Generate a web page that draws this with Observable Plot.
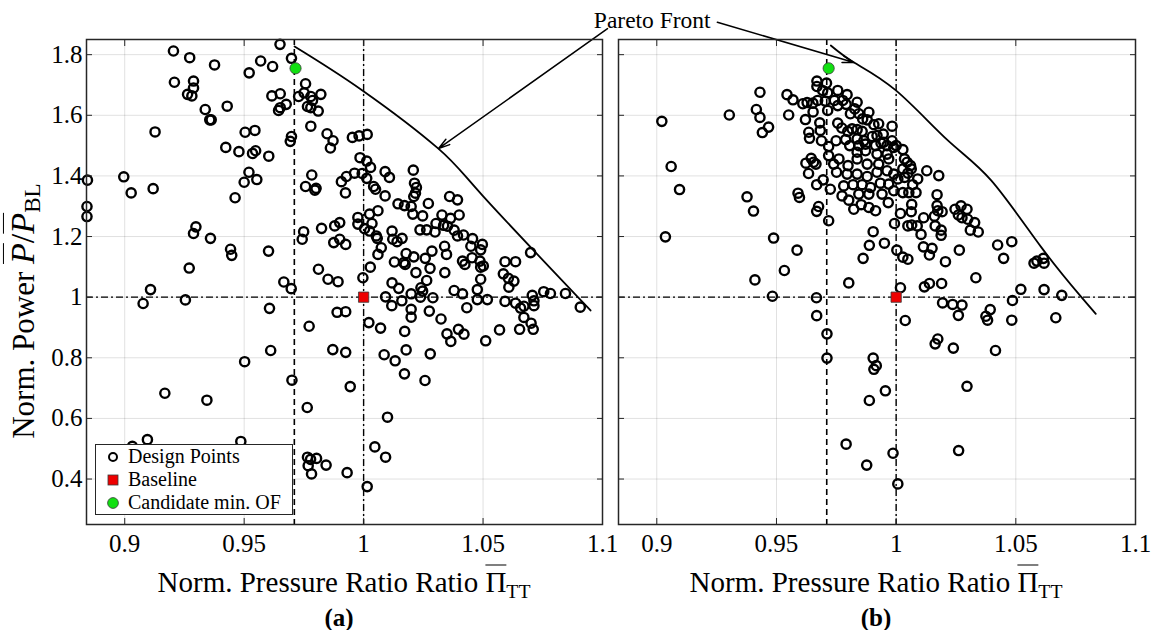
<!DOCTYPE html>
<html>
<head>
<meta charset="utf-8">
<script src="https://cdn.jsdelivr.net/npm/d3@7"></script>
<script src="https://cdn.jsdelivr.net/npm/@observablehq/plot@0.6"></script>
<style>
  html, body { margin: 0; padding: 0; background: #fff; }
  #fig { position: relative; width: 1153px; height: 630px; overflow: hidden; font-family: "Liberation Serif", "DejaVu Serif", serif; color: #000; }
  #fig svg { position: absolute; top: 0; }
  #fig svg text { font-family: "Liberation Serif", serif; }
  .lbl { position: absolute; white-space: nowrap; transform: translate(-50%, -50%); line-height: 1; }
  .xt { font-size: 29px; }
  .ov { text-decoration: overline; text-decoration-thickness: 1.4px; }
  .sb { font-size: 0.68em; position: relative; top: 0.28em; }
  .yt { font-size: 31px; transform: translate(-50%, -50%) rotate(-90deg); }
  .yt .m { font-size: 1.1em; }
  .tag { font-size: 25px; font-weight: bold; }
  #legend { position: absolute; left: 95px; top: 444px; width: 196px; height: 69px; border: 1.4px solid #262626; background: #fff; font-size: 20px; }
  #legend .row { position: absolute; left: 0; height: 23px; display: flex; align-items: center; }
  #legend svg { position: static; margin-left: 10px; margin-right: 8px; }
</style>
</head>
<body>
<div id="fig"></div>
<script>
// Axis ticks and their labels
const xTicks = [0.9, 0.95, 1, 1.05, 1.1];
const xTickLabels = ["0.9", "0.95", "1", "1.05", "1.1"];
const yTicks = [0.4, 0.6, 0.8, 1, 1.2, 1.4, 1.6, 1.8];
const yTickLabels = ["0.4", "0.6", "0.8", "1", "1.2", "1.4", "1.6", "1.8"];

// Reference values
const baseline = {x: 1, y: 1};
const constraintPR = 0.971; // lower bound on pressure ratio

// (a) design points [pressure ratio, power]
const designA = [
  [0.9204,1.812],[0.9272,1.790],[0.9208,1.709],[0.9376,1.766],[0.9288,1.713],[0.9288,1.690],[0.9263,1.669],[0.9281,1.664],
  [0.9337,1.619],[0.9356,1.585],[0.9362,1.585],[0.9429,1.630],[0.9127,1.545],[0.8996,1.397],[0.9027,1.344],[0.9119,1.358],
  [0.8844,1.386],[0.8842,1.299],[0.8842,1.266],[0.9423,1.494],[0.9478,1.480],[0.9504,1.544],[0.9545,1.550],[0.9548,1.483],
  [0.9535,1.474],[0.9520,1.412],[0.9553,1.388],[0.9500,1.379],[0.9462,1.328],[0.9603,1.465],[0.9521,1.740],[0.9569,1.779],
  [0.9619,1.761],[0.9650,1.834],[0.9698,1.788],[0.9616,1.664],[0.9651,1.671],[0.9676,1.636],[0.9644,1.616],[0.9651,1.625],
  [0.9698,1.530],[0.9693,1.514],[0.9728,1.662],[0.9298,1.232],[0.9288,1.210],[0.9359,1.194],[0.9443,1.158],[0.9448,1.138],
  [0.9270,1.096],[0.9602,1.152],[0.9666,1.050],[0.9697,1.028],[0.9108,1.025],[0.9077,0.979],[0.9254,0.991],[0.9606,0.963],
  [0.9611,0.824],[0.9502,0.787],[0.9168,0.683],[0.9344,0.660],[0.9700,0.726],[0.9095,0.530],[0.9486,0.524],[0.9032,0.508],
  [0.9757,1.704],[0.9751,1.674],[0.9779,1.662],[0.9786,1.649],[0.9821,1.669],[0.9765,1.629],[0.9779,1.625],[0.9810,1.614],
  [0.9779,1.564],[0.9847,1.539],[0.9872,1.516],[0.9861,1.492],[0.9953,1.527],[0.9981,1.532],[1.0015,1.537],[0.9985,1.460],
  [1.0013,1.449],[1.0029,1.428],[0.9962,1.409],[0.9994,1.408],[1.0013,1.392],[0.9928,1.398],[0.9907,1.381],[0.9924,1.344],
  [0.9783,1.403],[0.9757,1.365],[0.9796,1.353],[0.9801,1.359],[1.0042,1.365],[1.0050,1.356],[1.0090,1.414],[1.0108,1.395],
  [1.0090,1.334],[1.0208,1.419],[1.0213,1.376],[1.0221,1.362],[1.0217,1.343],[1.0210,1.332],[1.0199,1.299],[1.0206,1.274],
  [1.0144,1.308],[1.0171,1.302],[1.0271,1.309],[1.0247,1.268],[1.0360,1.332],[1.0393,1.321],[1.0328,1.271],[1.0364,1.260],
  [1.0400,1.271],[1.0303,1.243],[1.0299,1.215],[1.0264,1.222],[1.0236,1.222],[1.0335,1.237],[1.0351,1.234],[1.0379,1.221],
  [1.0393,1.202],[1.0418,1.205],[1.0456,1.193],[1.0497,1.174],[1.0449,1.168],[1.0490,1.156],[1.0454,1.130],[1.0487,1.119],
  [1.0490,1.099],[1.0501,1.103],[1.0414,1.119],[1.0424,1.108],[1.0339,1.168],[1.0347,1.141],[1.0286,1.152],[1.0258,1.128],
  [1.0278,1.095],[1.0340,1.081],[1.0219,1.081],[1.0264,1.055],[1.0240,1.031],[1.0210,1.133],[1.0178,1.144],[1.0168,1.114],
  [1.0129,1.116],[1.0174,1.108],[1.0119,1.218],[1.0122,1.191],[1.0140,1.183],[1.0161,1.194],[1.0060,1.285],[1.0025,1.274],
  [0.9976,1.263],[0.9976,1.241],[1.0004,1.226],[1.0025,1.218],[1.0035,1.243],[1.0053,1.202],[1.0057,1.194],[1.0074,1.163],
  [1.0060,1.141],[0.9900,1.246],[0.9879,1.235],[0.9824,1.227],[0.9875,1.180],[0.9900,1.191],[0.9925,1.174],[0.9749,1.216],
  [0.9743,1.191],[0.9811,1.092],[0.9851,1.059],[0.9893,1.051],[0.9997,1.064],[1.0028,1.099],[1.0092,1.001],[1.0119,1.047],
  [1.0147,1.029],[1.0199,1.011],[1.0238,1.000],[1.0247,1.020],[1.0290,0.998],[1.0379,1.022],[1.0414,1.011],[1.0476,1.025],
  [1.0476,0.992],[1.0518,0.992],[1.0490,1.059],[1.0592,1.117],[1.0636,1.117],[1.0585,1.077],[1.0606,1.062],[1.0629,1.053],
  [1.0608,1.033],[1.0699,1.147],[1.0754,1.018],[1.0782,1.012],[1.0845,1.012],[1.0907,0.967],
  [1.0118,0.972],[1.0160,0.988],[1.0199,0.960],[1.0199,0.934],[1.0275,0.954],[1.0324,0.928],[1.0432,0.965],[1.0592,0.986],
  [1.0636,0.980],[1.0657,0.964],[1.0671,0.970],[1.0706,1.006],[1.0713,0.988],[1.0713,0.972],[1.0671,0.933],[1.0701,0.914],
  [1.0710,0.894],[1.0653,0.894],[1.0569,0.892],[1.0511,0.856],[1.0349,0.879],[1.0365,0.854],[1.0397,0.894],[1.0420,0.878],
  [1.0279,0.813],[1.0257,0.725],[1.0178,0.826],[1.0171,0.747],[1.0172,0.887],[1.0132,0.790],[1.0086,0.810],[1.0071,0.898],
  [1.0022,0.916],[1.0100,0.604],[1.0047,0.506],[1.0092,0.472],[1.0015,0.375],[0.9889,0.950],[0.9925,0.952],[0.9871,0.827],
  [0.9925,0.818],[0.9944,0.705],[0.9772,0.904],[0.9764,0.636],[0.9765,0.472],[0.9778,0.465],[0.9803,0.468],[0.9768,0.444],
  [0.9782,0.417],[0.9843,0.446],[0.9931,0.421]
];

// (b) design points [pressure ratio, power]
const designB = [
  [0.9021,1.580],[0.9060,1.431],[0.9095,1.355],[0.9036,1.199],[0.9303,1.601],[0.9431,1.676],[0.9416,1.619],[0.9431,1.593],
  [0.9467,1.561],[0.9441,1.543],[0.9544,1.668],[0.9569,1.651],[0.9551,1.601],[0.9377,1.331],[0.9404,1.284],[0.9488,1.195],
  [0.9590,1.343],[0.9596,1.329],[0.9586,1.155],[0.9533,1.088],[0.9410,1.057],[0.9483,1.003],[0.9667,0.998],[0.9668,0.939],
  [0.9802,1.047],[0.9718,1.252],[0.9668,1.283],[0.9676,1.299],[0.9668,1.371],[0.9725,1.356],[0.9695,1.387],[0.9623,1.442],
  [0.9645,1.458],[0.9655,1.445],[0.9665,1.439],[0.9634,1.408],[0.9635,1.544],[0.9638,1.524],[0.9621,1.586],[0.9610,1.638],
  [0.9628,1.642],[0.9652,1.640],[0.9653,1.611],[0.9681,1.575],[0.9683,1.550],[0.9688,1.516],[0.9718,1.497],[0.9718,1.467],
  [0.9669,1.713],[0.9669,1.695],[0.9709,1.706],[0.9693,1.682],[0.9714,1.674],[0.9672,1.649],[0.9704,1.647],[0.9714,1.616],
  [0.9756,1.682],[0.9795,1.668],[0.9777,1.649],[0.9742,1.649],[0.9756,1.632],[0.9791,1.636],[0.9837,1.643],[0.9827,1.621],
  [0.9809,1.605],[0.9844,1.605],[0.9860,1.588],[0.9886,1.610],[0.9879,1.585],[0.9907,1.569],[0.9927,1.572],[0.9983,1.564],
  [0.9756,1.574],[0.9773,1.558],[0.9798,1.547],[0.9816,1.555],[0.9837,1.553],[0.9858,1.547],[0.9837,1.522],[0.9865,1.516],
  [0.9900,1.530],[0.9920,1.533],[0.9946,1.538],[0.9948,1.511],[0.9983,1.516],[0.9990,1.494],[0.9749,1.516],[0.9789,1.520],
  [0.9806,1.500],[0.9844,1.500],[0.9872,1.505],[0.9914,1.500],[0.9937,1.508],[0.9962,1.500],[0.9837,1.478],[0.9872,1.483],
  [0.9920,1.472],[0.9962,1.472],[0.9761,1.456],[0.9799,1.434],[0.9837,1.456],[0.9879,1.439],[0.9927,1.439],[0.9969,1.456],
  [0.9739,1.439],[0.9751,1.412],[0.9795,1.406],[0.9837,1.406],[0.9879,1.398],[0.9920,1.412],[0.9962,1.417],[0.9990,1.406],
  [0.9781,1.367],[0.9820,1.371],[0.9858,1.371],[0.9893,1.362],[0.9934,1.376],[0.9969,1.373],[0.9774,1.334],[0.9802,1.320],
  [0.9844,1.340],[0.9886,1.340],[0.9941,1.340],[0.9990,1.351],[0.9823,1.290],[0.9854,1.305],[0.9886,1.296],[0.9914,1.285],
  [0.9967,1.312],[0.9904,1.216],[0.9888,1.171],[0.9951,1.178],[0.9862,1.128],[0.9993,1.243],
  [1.0000,1.500],[1.0028,1.487],[1.0035,1.456],[1.0046,1.445],[1.0060,1.434],[1.0063,1.423],[1.0028,1.423],[1.0049,1.409],
  [1.0035,1.395],[1.0090,1.390],[1.0128,1.417],[1.0178,1.401],[1.0069,1.371],[1.0083,1.345],[1.0053,1.345],[1.0028,1.345],
  [1.0007,1.390],[1.0171,1.338],[1.0065,1.306],[1.0063,1.282],[1.0018,1.276],[1.0171,1.302],[1.0174,1.285],[1.0192,1.282],
  [1.0160,1.267],[1.0115,1.262],[1.0049,1.235],[1.0065,1.238],[1.0088,1.235],[1.0104,1.207],[1.0163,1.235],[1.0188,1.221],
  [1.0188,1.204],[1.0246,1.290],[1.0271,1.301],[1.0296,1.290],[1.0260,1.271],[1.0275,1.262],[1.0299,1.257],[1.0328,1.246],
  [1.0310,1.221],[1.0343,1.215],[1.0114,1.166],[1.0150,1.161],[1.0139,1.139],[1.0003,1.155],[1.0028,1.132],[1.0049,1.125],
  [1.0264,1.155],[1.0206,1.117],[1.0333,1.064],[1.0118,1.034],[1.0139,1.045],[1.0190,1.045],[1.0018,1.031],[1.0194,0.981],
  [1.0236,0.976],[1.0275,0.974],[1.0260,0.940],[1.0393,0.959],[1.0375,0.937],[1.0382,0.924],[1.0486,0.989],[1.0483,0.924],
  [1.0038,0.923],[1.0424,1.172],[1.0449,1.128],[1.0483,1.183],[1.0576,1.112],[1.0588,1.119],[1.0615,1.128],[1.0618,1.112],
  [1.0521,1.026],[1.0618,1.025],[1.0692,1.006],[1.0667,0.932],
  [0.9711,0.879],[0.9711,0.799],[0.9904,0.799],[0.9917,0.774],[0.9907,0.762],[0.9955,0.691],[0.9888,0.659],[0.9791,0.515],
  [0.9877,0.446],[0.9987,0.485],[1.0007,0.384],[1.0163,0.846],[1.0174,0.862],[1.0239,0.832],[1.0415,0.824],[1.0296,0.706],
  [1.0261,0.494]
];

// Pareto fronts [pressure ratio, power]
const frontA = [[0.9711,1.827],[0.9995,1.682],[1.0313,1.490],[1.0498,1.335],[1.0950,0.956]];
const frontB = [[0.9727,1.830],[0.9824,1.774],[0.9999,1.682],[1.0216,1.517],[1.0397,1.385],[1.0606,1.165],[1.0774,1.000],[1.0834,0.945]];

// Candidate minimum of the objective function
const candidateA = {x: 0.9715, y: 1.755};
const candidateB = {x: 0.9718, y: 1.755};

// "Pareto Front" callout: label anchor and arrow tails
const calloutText = {x: 0.9225, y: 1.913, label: "Pareto Front"};
const calloutTailA = {x: 1.1021, y: 1.886};
const calloutTailB = {x: 0.9253, y: 1.907};

const serif = "Liberation Serif, serif";
const toPts = (arr) => arr.map(([x, y]) => ({x, y}));
const fmtX = (d) => xTickLabels[xTicks.indexOf(d)];
const fmtY = (d) => yTickLabels[yTicks.indexOf(d)];
const dashDot = "7,3,2,3";

function panel({points, front, candidate, arrow, showYLabels, width, marginLeft, marginRight, extra = []}) {
  return Plot.plot({
    width, height: 565,
    marginLeft, marginRight, marginTop: 39, marginBottom: 41,
    style: {background: "transparent", overflow: "visible", fontFamily: serif, color: "#000"},
    x: {domain: [0.884, 1.1]},
    y: {domain: [0.25, 1.85]},
    marks: [
      Plot.gridX(xTicks, {stroke: "#000", strokeOpacity: 0.12, strokeWidth: 1}),
      Plot.gridY(yTicks, {stroke: "#000", strokeOpacity: 0.12, strokeWidth: 1}),
      Plot.ruleX([constraintPR], {stroke: "#000", strokeWidth: 1.6, strokeDasharray: "6,4"}),
      Plot.ruleX([baseline.x], {stroke: "#000", strokeWidth: 1.4, strokeDasharray: dashDot}),
      Plot.ruleY([baseline.y], {stroke: "#000", strokeWidth: 1.4, strokeDasharray: dashDot}),
      Plot.dot(toPts(points), {x: "x", y: "y", r: 4.6, stroke: "#000", strokeWidth: 2.4, fill: "none"}),
      Plot.line(toPts(front), {x: "x", y: "y", curve: "natural", stroke: "#000", strokeWidth: 1.8}),
      Plot.arrow([arrow], {x1: "x1", y1: "y1", x2: "x2", y2: "y2", stroke: "#000", strokeWidth: 1.5, headLength: 12, headAngle: 32}),
      Plot.dot([baseline], {x: "x", y: "y", symbol: "square", r: 5.8, fill: "#ee0000", stroke: "#3a3a3a", strokeWidth: 0.8}),
      Plot.dot([candidate], {x: "x", y: "y", r: 5.6, fill: "#11e011", stroke: "#3a3a3a", strokeWidth: 0.8}),
      Plot.frame({stroke: "#262626", strokeWidth: 1.5}),
      // inward tick marks on all four sides
      Plot.axisX(xTicks, {anchor: "bottom", tickSize: 6, dy: -6, fill: "none", label: null, stroke: "#262626"}),
      Plot.axisX(xTicks, {anchor: "top", tickSize: 6, dy: 6, fill: "none", label: null, stroke: "#262626"}),
      Plot.axisY(yTicks, {anchor: "left", tickSize: 6, dx: 6, fill: "none", label: null, stroke: "#262626"}),
      Plot.axisY(yTicks, {anchor: "right", tickSize: 6, dx: -6, fill: "none", label: null, stroke: "#262626"}),
      // tick labels
      Plot.axisX(xTicks, {anchor: "bottom", tickSize: 0, tickPadding: 10, tickFormat: fmtX, fontSize: 25, fontFamily: serif, fontVariant: "normal", label: null}),
      ...(showYLabels ? [Plot.axisY(yTicks, {anchor: "left", tickSize: 0, tickPadding: 4, tickFormat: fmtY, fontSize: 25, fontFamily: serif, fontVariant: "normal", label: null})] : []),
      ...extra
    ]
  });
}

const fig = document.getElementById("fig");

const left = panel({
  points: designA, front: frontA, candidate: candidateA,
  arrow: {x1: calloutTailA.x, y1: calloutTailA.y, x2: frontA[2][0], y2: frontA[2][1]},
  showYLabels: true, width: 612, marginLeft: 86, marginRight: 10
});
left.style.left = "0px";
fig.appendChild(left);

const right = panel({
  points: designB, front: frontB, candidate: candidateB,
  arrow: {x1: calloutTailB.x, y1: calloutTailB.y, x2: frontB[1][0], y2: frontB[1][1]},
  showYLabels: false, width: 577, marginLeft: 42, marginRight: 18,
  extra: [Plot.text([calloutText], {x: "x", y: "y", text: "label", textAnchor: "end", fontSize: 23.5, fontFamily: serif, fill: "#000"})]
});
right.style.left = "576px";
fig.appendChild(right);

// Axis titles and panel tags
const xTitle = 'Norm. Pressure Ratio Ratio <span class="ov">&Pi;</span><span class="sb">TT</span>';
function addLabel(cls, html, x, y) {
  const d = document.createElement("div");
  d.className = "lbl " + cls;
  d.innerHTML = html;
  d.style.left = x + "px";
  d.style.top = y + "px";
  fig.appendChild(d);
}
addLabel("xt", xTitle, 344, 582);
addLabel("xt", xTitle, 876, 582);
addLabel("yt", 'Norm. Power <span class="m"><i class="ov">P</i>/<i class="ov">P</i><span class="sb">BL</span></span>', 23, 311);
addLabel("tag", "(a)", 339, 617);
addLabel("tag", "(b)", 876, 617);

// Legend for panel (a)
const legendItems = [
  {label: "Design Points", svg: '<circle cx="7" cy="7" r="4" fill="none" stroke="#000" stroke-width="2"/>'},
  {label: "Baseline", svg: '<rect x="2" y="2" width="10" height="10" fill="#ee0000" stroke="#3a3a3a" stroke-width="0.8"/>'},
  {label: "Candidate min. OF", svg: '<circle cx="7" cy="7" r="5.4" fill="#11e011" stroke="#3a3a3a" stroke-width="0.8"/>'}
];
const legend = document.createElement("div");
legend.id = "legend";
legendItems.forEach((item, i) => {
  const row = document.createElement("div");
  row.className = "row";
  row.style.top = (0 + i * 23) + "px";
  row.innerHTML = `<svg width="14" height="14" viewBox="0 0 14 14">${item.svg}</svg><span>${item.label}</span>`;
  legend.appendChild(row);
});
fig.appendChild(legend);
</script>
</body>
</html>
